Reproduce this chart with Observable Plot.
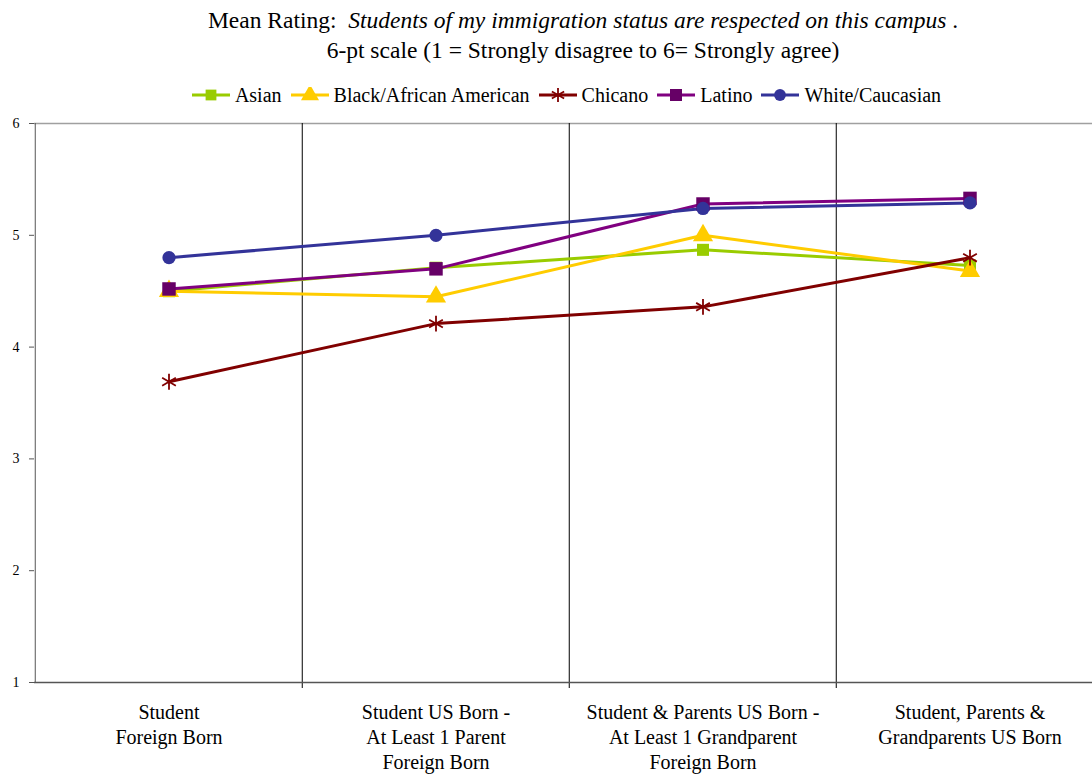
<!DOCTYPE html>
<html>
<head>
<meta charset="utf-8">
<script src="https://cdn.jsdelivr.net/npm/d3@7"></script>
<script src="https://cdn.jsdelivr.net/npm/@observablehq/plot@0.6"></script>
<style>
  html, body { margin: 0; padding: 0; background: #fff; }
  #wrap { position: relative; width: 1092px; height: 774px; overflow: hidden; font-family: "Liberation Serif", "Times New Roman", serif; }
  .title { position: absolute; left: 74px; width: 1018px; text-align: center; font-size: 23.5px; line-height: 28px; color: #000; white-space: nowrap; }
  #legend { position: absolute; top: 81px; left: 0; width: 1092px; padding-left: 48px; box-sizing: border-box; display: flex; justify-content: center; font-size: 20px; line-height: 28px; }
  .item { display: flex; align-items: center; margin-right: 8px; }
  .item svg { margin-right: 4px; }
  #chart { position: absolute; top: 110px; left: 0; }
</style>
</head>
<body>
<div id="wrap">
  <div class="title" style="top:6px">Mean Rating:&nbsp; <i>Students of my immigration status are respected on this campus</i> .</div>
  <div class="title" style="top:36px">6-pt scale (1 = Strongly disagree to 6= Strongly agree)</div>
  <div id="legend"></div>
  <div id="chart"></div>
</div>
<script>
const categories = [
  "Student\nForeign Born",
  "Student US Born -\nAt Least 1 Parent\nForeign Born",
  "Student & Parents US Born -\nAt Least 1 Grandparent\nForeign Born",
  "Student, Parents &\nGrandparents US Born"
];
const seriesNames = ["Asian", "Black/African American", "Chicano", "Latino", "White/Caucasian"];
const asian   = [4.50, 4.71, 4.87, 4.73];
const black   = [4.50, 4.45, 5.00, 4.68];
const chicano = [3.69, 4.21, 4.36, 4.80];
const latino  = [4.52, 4.70, 5.28, 5.33];
const white   = [4.80, 5.00, 5.24, 5.29];
const yTicks = [1, 2, 3, 4, 5, 6];

const seriesValues = [asian, black, chicano, latino, white];
const lineColors   = ["#99CC00", "#FFCC00", "#800000", "#800080", "#333399"];
const markColors   = ["#99CC00", "#FFCC00", "#800000", "#660066", "#333399"];
const symbols      = ["square", "triangle", "asterisk", "square", "circle"];
const sizes        = [6.8, 7.5, 7.5, 7.6, 6.6];

const data = [];
seriesNames.forEach((s, i) => {
  categories.forEach((c, j) => data.push({series: s, cat: c, value: seriesValues[i][j], idx: i}));
});

const xRange = [34, 1104];
const bw = (xRange[1] - xRange[0]) / categories.length;
const font = "'Liberation Serif', 'Times New Roman', serif";

const marks = [
  Plot.ruleY([6], {stroke: "#a0a0a0", strokeWidth: 1.5}),
  Plot.ruleX(categories.slice(1), {x: d => d, dx: -bw / 2, y1: 6, y2: 1, insetBottom: -6, stroke: "#000", strokeWidth: 1}),
  Plot.ruleY([1], {stroke: "#555", strokeWidth: 1.5}),
  Plot.ruleX([categories[0]], {x: d => d, dx: -bw / 2, y1: 1, y2: 6, stroke: "#555", strokeWidth: 1})
];
seriesNames.forEach((s, i) => {
  const rows = data.filter(d => d.idx === i);
  marks.push(Plot.line(rows, {x: "cat", y: "value", stroke: lineColors[i], strokeWidth: 3}));
});
seriesNames.forEach((s, i) => {
  const rows = data.filter(d => d.idx === i);
  if (symbols[i] === "asterisk") {
    marks.push(Plot.dot(rows, {x: "cat", y: "value", symbol: "asterisk", r: sizes[i], stroke: markColors[i], strokeWidth: 1.8, fill: "none"}));
  } else {
    marks.push(Plot.dot(rows, {x: "cat", y: "value", symbol: symbols[i], r: sizes[i], fill: markColors[i], stroke: "none"}));
  }
});
marks.push(Plot.axisY({ticks: yTicks, tickSize: 5, text: null, stroke: "#555"}));
marks.push(Plot.text(yTicks, {y: d => d, frameAnchor: "left", dx: -15, textAnchor: "end", text: d => String(d), fontSize: 14, fontFamily: font, fill: "#000"}));
marks.push(Plot.axisX({tickSize: 0, tickPadding: 19, fontSize: 20, lineHeight: 1.25, color: "#000", fontFamily: font}));

const chart = Plot.plot({
  width: 1092,
  height: 664,
  marginTop: 13,
  marginBottom: 92,
  marginLeft: 34,
  marginRight: 0,
  style: {fontFamily: font, fontSize: "15px", background: "#fff", color: "#000", overflow: "hidden"},
  x: {type: "band", domain: categories, range: xRange, padding: 0, label: null},
  y: {domain: [1, 6], range: [572, 13], label: null},
  marks
});
document.getElementById("chart").appendChild(chart);

// legend
const legend = d3.select("#legend");
seriesNames.forEach((s, i) => {
  const it = legend.append("div").attr("class", "item");
  const sv = it.append("svg").attr("width", 40).attr("height", 16);
  sv.append("line").attr("x1", 1).attr("x2", 39).attr("y1", 8).attr("y2", 8).attr("stroke", lineColors[i]).attr("stroke-width", 3);
  const sym = {square: d3.symbolSquare, triangle: d3.symbolTriangle, asterisk: d3.symbolAsterisk, circle: d3.symbolCircle}[symbols[i]];
  const p = sv.append("path").attr("transform", "translate(20,8)").attr("d", d3.symbol(sym, Math.PI * sizes[i] * sizes[i] * 0.8)());
  if (symbols[i] === "asterisk") p.attr("fill", "none").attr("stroke", markColors[i]).attr("stroke-width", 1.8);
  else p.attr("fill", markColors[i]);
  it.append("span").text(s);
});
</script>
</body>
</html>
